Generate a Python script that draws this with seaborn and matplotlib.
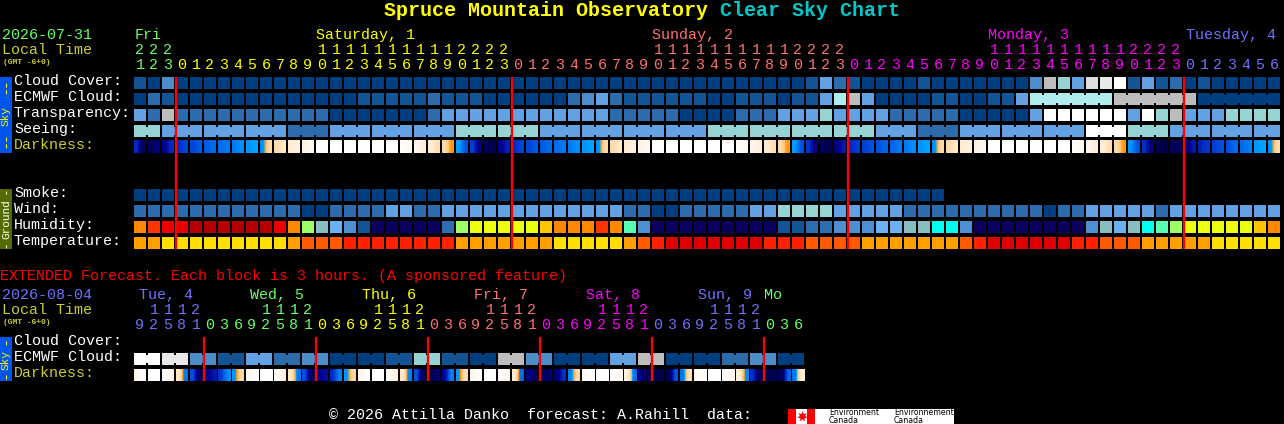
import matplotlib
matplotlib.use('Agg')
import matplotlib.pyplot as plt
import seaborn as sns
import numpy as np
from matplotlib.colors import ListedColormap, LinearSegmentedColormap
from matplotlib.patches import Rectangle

plt.rcParams['font.family'] = ['Liberation Mono', 'DejaVu Sans Mono']

# colour codes, one per hour block
cloud_cover = [1,0,3,0,0,0,0,0,0,0, 0,0,0,0,0,0,0,0,0,0, 0,0,0,0,0,0,0,0,0,0,
               0,0,0,0,0,0,0,0,0,0, 0,0,0,0,0,0,0,0,1,4, 2,1,0,0,0,0,1,0,0,0,
               0,0,0,0,3,7,5,4,8,9, 10,1,4,1,2,0,1,0,0,0,0,0]
ecmwf_cloud = [0,2,1,0,0,0,0,0,0,0, 0,0,0,0,0,0,1,1,1,1, 1,2,1,1,1,0,0,0,0,0,
               0,2,3,4,2,1,1,1,1,1, 1,0,0,1,1,1,0,1,1,4, 6,7,4,0,0,0,0,1,1,0,
               0,1,1,4,6,6,6,6,6,6, 7,7,7,7,7,7,0,0,0,0,0,0]
transparency = [4,2,7,2,2,2,2,2,2,2, 2,2,2,2,0,0,0,0,0,0, 0,2,4,4,4,4,4,4,4,4,
                4,4,4,4,2,2,2,2,2,0, 0,0,0,2,2,2,4,4,4,5, 4,4,4,4,2,2,2,2,2,0,
                0,0,0,0,4,10,10,10,10,10, 10,4,10,5,7,4,4,4,5,5,5,5]
seeing = [5,5,4,4,4,4,4,4,4,4, 4,2,2,2,4,4,4,4,4,4, 4,4,4,5,5,5,5,5,5,4,
          4,4,4,4,4,4,4,4,4,4, 4,5,5,5,5,5,5,5,5,5, 5,5,5,4,4,4,2,2,2,4,
          4,4,4,4,4,4,4,4,10,10, 10,5,5,5,4,4,4,4,4,4,4,4]
smoke = [0] * 58
wind = [2,2,2,2,2,2,2,2,2,2, 2,2,0,0,2,2,2,2,4,4, 2,2,4,4,4,4,4,4,4,4,
        4,4,4,4,4,2,2,0,0,2, 2,2,2,2,4,4,5,5,5,5, 4,4,4,4,4,2,2,2,2,2,
        2,2,2,2,2,0,2,2,4,4, 4,4,4,2,4,4,4,4,4,4,4,4]
humidity = [11,12,13,13,14,14,14,14,14,14, 13,11,8,5,4,3,1,0,0,0, 0,0,2,8,9,9,9,9,9,10,
            11,11,11,12,11,7,3,0,0,0, 0,0,0,0,0,0,1,1,2,2, 3,3,3,4,4,5,5,6,6,3,
            0,0,0,0,0,0,0,0,3,5, 4,5,6,7,8,9,9,9,9,9,10,11]
temperature = [3,3,4,4,4,4,4,4,4,4, 4,3,2,2,2,1,1,1,1,1, 1,1,1,3,3,3,3,3,3,3,
               4,4,4,4,4,3,2,1,0,0, 0,0,0,0,0,1,1,1,2,2, 2,2,3,3,3,3,3,3,3,2,
               1,0,0,0,0,0,0,1,1,2, 2,2,3,3,3,3,3,4,4,4,4,4]

# darkness read at left and right side of each block, 0 night .. 1 full daylight
dark_left = [.24,.02,.14,.25,.28,.31,.34,.37,.42,.41, .60,.70,.80,1,1,1,1,1,1,.95,
             .85,.72,.60,.44,.27,.02,.14,.25,.28,.31, .34,.37,.42,.41,.60,.72,.82,1,1,1,
             1,1,1,.95,.85,.72,.60,.43,.26,.01, .12,.24,.27,.30,.33,.37,.42,.41,.60,.70,
             .82,1,1,1,1,1,1,.95,.85,.72, .60,.42,.25,.01,.02,.10,.22,.27,.30,.34,.42,.41]
dark_right = [.04,.12,.24,.28,.31,.34,.37,.41,.44,.60, .68,.76,.90,1,1,1,1,1,1,.88,
              .74,.62,.47,.30,.12,.01,.22,.28,.31,.34, .37,.41,.44,.60,.68,.78,.90,1,1,1,
              1,1,1,.90,.76,.62,.47,.30,.10,.02, .20,.27,.30,.33,.37,.41,.44,.60,.68,.76,
              .90,1,1,1,1,1,1,.90,.75,.62, .47,.30,.10,.00,.05,.20,.26,.30,.34,.38,.44,.60]

# extended forecast, 3 hour blocks
ext_ecmwf = [10,10,9,9,3,3,1,1,4,4,2,2,3,3,0,0,0,0,1,1,5,5,1,1,
             0,0,7,7,3,3,0,0,0,0,4,4,7,7,0,0,0,0,2,2,3,3,0,0]
ext_dark_left = [.85,1,1,.68,.30,.14,.26,.42,.85,1,.95,.68,.30,.14,.24,.42,.85,1,.95,.68,.30,.00,.16,.42,
                 .85,1,1,.70,.14,.02,.08,.38,.90,1,1,.80,.12,.00,.02,.36,.90,1,.98,.75,.25,.00,.02,.36]
ext_dark_right = [1,1,.80,.36,.02,.20,.40,.60,1,1,.75,.36,.02,.18,.38,.58,1,1,.75,.38,.02,.08,.38,.62,
                  1,1,.85,.33,.02,.08,.25,.60,1,1,.90,.35,.02,.01,.30,.65,1,1,.85,.40,.02,.01,.33,.75]

hours = [21,22,23] + list(range(24)) * 3 + list(range(7))
day_of_hour = [0] * 3 + [1] * 24 + [2] * 24 + [3] * 24 + [4] * 7
day_names = ['Fri', 'Saturday, 1', 'Sunday, 2', 'Monday, 3', 'Tuesday, 4']
day_x = [135, 316, 652, 988, 1186]

ext_hours = [9,12,15,18,21] + [0,3,6,9,12,15,18,21] * 5 + [0,3,6]
ext_day_of_hour = [0] * 5 + [1] * 8 + [2] * 8 + [3] * 8 + [4] * 8 + [5] * 8 + [6] * 3
ext_day_names = ['Tue, 4', 'Wed, 5', 'Thu, 6', 'Fri, 7', 'Sat, 8', 'Sun, 9', 'Mo']
ext_day_x = [139, 250, 362, 474, 586, 698, 764]

day_colors = ['#66ff66', '#ffff00', '#ff7070', '#ff00ff', '#7070ff']
ext_day_colors = ['#7070ff', '#66ff66', '#ffff00', '#ff7070', '#ff00ff', '#7070ff', '#66ff66']

cloud_palette = ['#003f7f', '#135496', '#2c6cad', '#4c8ecb', '#62a2e3', '#96d4d4',
                 '#afeded', '#bdbdbd', '#dddddd', '#e8e8e8', '#ffffff']
humidity_palette = ['#0a0060', '#135496', '#2c6eb0', '#4e8fd3', '#6db1f5', '#86bfbf',
                    '#00ffee', '#57ffb0', '#9bff65', '#ecff10', '#ffc600', '#ff8800',
                    '#ff3500', '#eb0000', '#b60000']
temp_palette = ['#e00000', '#ff2000', '#ff5a00', '#ffa000', '#ffde00']
dark_cmap = LinearSegmentedColormap.from_list('darkness', [
    (0.0, '#00004d'), (0.15, '#000090'), (0.25, '#0030c8'), (0.32, '#0060e8'),
    (0.41, '#0090ff'), (0.45, '#00a8ff'), (0.47, '#ff9a10'), (0.55, '#ffd090'),
    (0.70, '#ffecd0'), (0.88, '#fff8f0'), (1.0, '#ffffff')])

W, H = 1284, 424
fig = plt.figure(figsize=(W / 100, H / 100), dpi=100, facecolor='black')


def row_axes(top, n):
    # cell is 14x14 px, the 2 px grid line leaves a 12 px block
    return fig.add_axes([133 / W, 1 - (top + 13) / H, n * 14 / W, 14 / H], facecolor='black')


def draw_row(values, palette, top, n=82, joined=()):
    ax = row_axes(top, n)
    data = np.full((1, n), np.nan)
    data[0, :len(values)] = values
    sns.heatmap(data, ax=ax, cmap=ListedColormap(palette), vmin=-0.5, vmax=len(palette) - 0.5,
                cbar=False, xticklabels=False, yticklabels=False,
                linewidths=1.44, linecolor='black')
    # neighbouring blocks of one forecast period have a narrow bridge
    for k in joined:
        ax.add_patch(Rectangle((k + 1 - 1 / 7, 3 / 14), 2 / 7, 8 / 14, lw=0,
                               color=palette[values[k]], zorder=5))
    ax.set_xlabel('')
    ax.set_ylabel('')
    return ax


def draw_darkness(left, right, top):
    n = len(left)
    ax = row_axes(top, n)
    for k in range(n):
        ax.imshow([[left[k], right[k]]], cmap=dark_cmap, vmin=0, vmax=1, aspect='auto',
                  interpolation='bilinear', extent=(k + 1 / 14, k + 13 / 14, 13 / 14, 1 / 14))
    ax.set_xlim(0, n)
    ax.set_ylim(1, 0)
    ax.axis('off')


seeing_joined = [k for k in range(81) if (k + 1) % 3 != 2]
ecmwf_joined = [k for k in range(64, 81) if k not in (69, 75)]
ext_joined = list(range(0, 47, 2))

draw_row(cloud_cover, cloud_palette, 77)
draw_row(ecmwf_cloud, cloud_palette, 93, joined=ecmwf_joined)
draw_row(transparency, cloud_palette, 109)
draw_row(seeing, cloud_palette, 125, joined=seeing_joined)
draw_darkness(dark_left, dark_right, 141)
draw_row(smoke, cloud_palette, 189)
draw_row(wind, cloud_palette, 205)
draw_row(humidity, humidity_palette, 221)
draw_row(temperature, temp_palette, 237)
draw_row(ext_ecmwf, cloud_palette, 353, n=48, joined=ext_joined)
draw_darkness(ext_dark_left, ext_dark_right, 369)

# overlay in pixel coordinates for text and markers
ov = fig.add_axes([0, 0, 1, 1], facecolor='none', zorder=10)
ov.set_xlim(0, W)
ov.set_ylim(H, 0)
ov.axis('off')


def label(x, y, s, color='white', size=10.8, **kw):
    ov.text(x, y, s, color=color, fontsize=size, va='center', **kw)


label(384, 11, 'Spruce Mountain Observatory', '#ffff00', 14.4, fontweight='bold')
label(720, 11, 'Clear Sky Chart', '#00c8c8', 14.4, fontweight='bold')

dim = '#cccc33'
label(2, 35, '2026-07-31', '#66ff66')
label(2, 50, 'Local Time', dim)
label(3, 62, '(GMT -6+0)', dim, 5.8, fontweight='bold')
for name, x, c in zip(day_names, day_x, day_colors):
    label(x, 35, name, c)
for k, (h, d) in enumerate(zip(hours, day_of_hour)):
    if h >= 10:
        label(140 + 14 * k, 50, str(h // 10), day_colors[d], ha='center')
    label(140 + 14 * k, 65, str(h % 10), day_colors[d], ha='center')

for y, s, c in [(81, 'Cloud Cover:', 'white'), (97, 'ECMWF Cloud:', 'white'),
                (113, 'Transparency:', 'white'), (129, 'Seeing:', 'white'),
                (145, 'Darkness:', dim), (193, 'Smoke:', 'white'), (209, 'Wind:', 'white'),
                (225, 'Humidity:', 'white'), (241, 'Temperature:', 'white'),
                (341, 'Cloud Cover:', 'white'), (357, 'ECMWF Cloud:', 'white'),
                (373, 'Darkness:', dim)]:
    label(14, y, s, c)

label(0, 276, 'EXTENDED Forecast. Each block is 3 hours. (A sponsored feature)', '#ff0000')
label(2, 295, '2026-08-04', '#7070ff')
label(2, 310, 'Local Time', dim)
label(3, 322, '(GMT -6+0)', dim, 5.8, fontweight='bold')
for name, x, c in zip(ext_day_names, ext_day_x, ext_day_colors):
    label(x, 295, name, c)
for k, (h, d) in enumerate(zip(ext_hours, ext_day_of_hour)):
    if h >= 10:
        label(140 + 14 * k, 310, str(h // 10), ext_day_colors[d], ha='center')
    label(140 + 14 * k, 325, str(h % 10), ext_day_colors[d], ha='center')

# midnight markers
for x in [176, 512, 848, 1184]:
    ov.plot([x, x], [77, 249], color='#ff0000', lw=1.7, solid_capstyle='butt')
for x in [204, 316, 428, 540, 652, 764]:
    ov.plot([x, x], [337, 381], color='#ff0000', lw=1.7, solid_capstyle='butt')

# side tabs
for top, bottom, fc, tc, s, dashes in [
        (77, 153, '#0055ee', '#ffff00', 'Sky', [(83, 97), (137, 148)]),
        (189, 249, '#556b00', '#ffffff', 'Ground', [(191, 194), (245, 248)]),
        (337, 381, '#0055ee', '#ffff00', 'Sky', [(341, 345), (375, 379)])]:
    ov.add_patch(Rectangle((0, top), 12, bottom - top, color=fc, lw=0))
    ov.text(6, (top + bottom) / 2 + (0 if s == 'Ground' else 1), s, color=tc, fontsize=8,
            rotation=90, ha='center', va='center')
    for y0, y1 in dashes:
        ov.plot([5.5, 5.5], [y0, y1], color=tc, lw=0.75, linestyle=(0, (4, 2.5)))

# footer and logo
label(329, 415, '\u00a9 2026 Attilla Danko  forecast: A.Rahill  data:')
ov.add_patch(Rectangle((788, 409), 166, 15, color='white', lw=0))
ov.add_patch(Rectangle((788, 409), 8, 15, color='#ff0000', lw=0))
ov.add_patch(Rectangle((807, 409), 8, 15, color='#ff0000', lw=0))
ov.scatter([801.5], [416], s=60, marker=(7, 1), color='#ff0000', linewidths=0)
for x, name in [(829, 'Environment'), (894, 'Environnement')]:
    ov.text(x, 412.5, name, color='black', fontsize=5.55, family='DejaVu Sans', va='center')
    ov.text(x, 420.5, 'Canada', color='black', fontsize=5.55, family='DejaVu Sans', va='center')

fig.savefig('out.png', dpi=100, facecolor='black')
